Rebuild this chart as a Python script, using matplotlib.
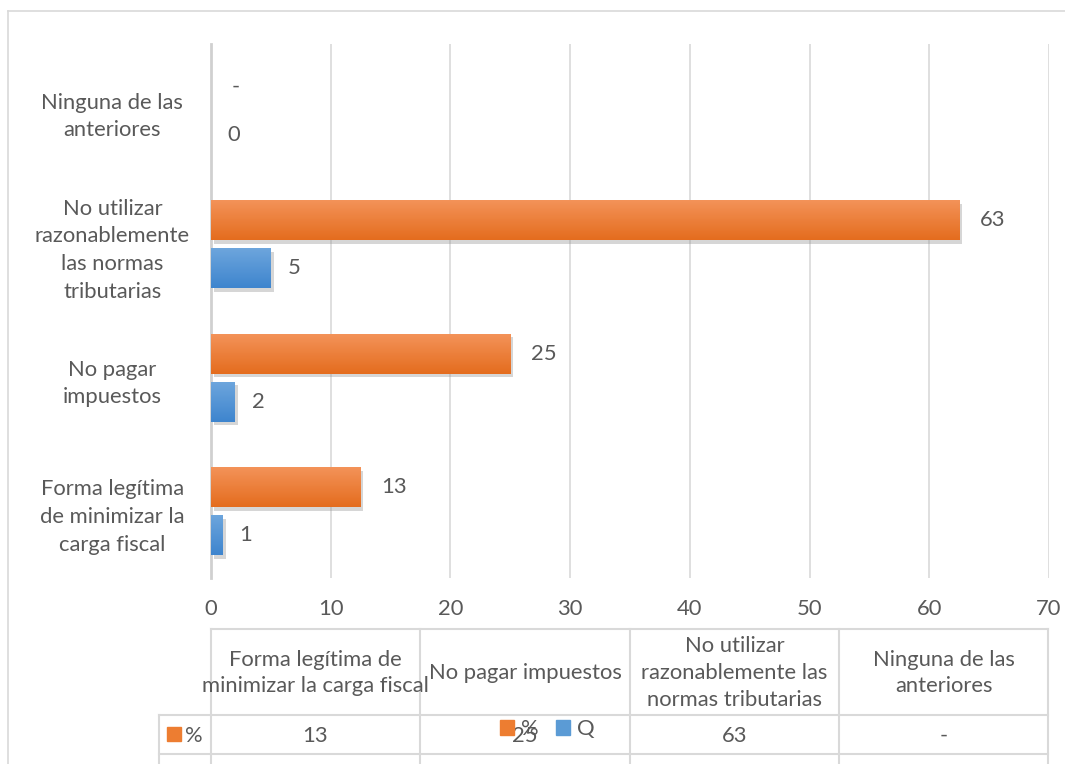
import matplotlib
matplotlib.use("Agg")
import matplotlib.pyplot as plt
import matplotlib.patheffects as pe
from matplotlib.patches import Patch
import numpy as np

# ---- data ----
categories = ["Forma legítima\nde minimizar la\ncarga fiscal",
              "No pagar\nimpuestos",
              "No utilizar\nrazonablemente\nlas normas\ntributarias",
              "Ninguna de las\nanteriores"]
table_headers = ["Forma legítima de\nminimizar la carga fiscal",
                 "No pagar impuestos",
                 "No utilizar\nrazonablemente las\nnormas tributarias",
                 "Ninguna de las\nanteriores"]
pct_values = [12.5, 25, 62.5, 0]
q_values = [1, 2, 5, 0]
series_names = ["%", "Q"]
x_ticks = [0, 10, 20, 30, 40, 50, 60, 70]

ORANGE = "#ED7D31"
BLUE = "#5B9BD5"
TXT = "#595959"
GRID = "#D9D9D9"
FONT = ["Lato", "DejaVu Sans"]
FS = 15.8

plt.rcParams["font.family"] = FONT

W, H = 1065, 764
fig = plt.figure(figsize=(W / 100, H / 100), dpi=100)

# overlay axes in pixel coordinates for borders & table
ov = fig.add_axes([0, 0, 1, 1], zorder=0)
ov.set_xlim(0, W)
ov.set_ylim(H, 0)
ov.axis("off")

# outer chart border
ov.plot([8, 8], [11, H], color=GRID, lw=1.2)
ov.plot([8, W], [11, 11], color=GRID, lw=1.2)

# main plot area
L, R, T, B = 211, 1049, 44, 578
ax = fig.add_axes([L / W, 1 - B / H, (R - L) / W, (B - T) / H], zorder=1)
ax.set_facecolor("none")

def pct_label(v):
    return "-" if v == 0 else str(int(v + 0.5))

def q_label(v):
    return str(int(v + 0.5))

y = np.arange(len(categories))
off, hgt = 0.18, 0.30

def grad_bars(ypos, vals, top_col, bot_col, base):
    bars = ax.barh(ypos, vals, height=hgt, color=base, zorder=3,
                   path_effects=[pe.SimplePatchShadow(offset=(2, -2.5), shadow_rgbFace="#8c8c8c", alpha=0.35),
                                 pe.Normal()])
    grad = np.linspace(0, 1, 64).reshape(-1, 1)
    cmap = matplotlib.colors.LinearSegmentedColormap.from_list("g", [top_col, bot_col])
    for b, v in zip(bars, vals):
        if v <= 0:
            continue
        x0, y0 = b.get_x(), b.get_y()
        im = ax.imshow(grad, extent=[x0, x0 + b.get_width(), y0, y0 + b.get_height()],
                       origin="upper", cmap=cmap, aspect="auto", zorder=4)
        im.set_clip_path(b)
    return bars

pb = grad_bars(y + off, pct_values, "#F4945A", "#E46C1E", ORANGE)
qb = grad_bars(y - off, q_values, "#6EA6DD", "#3E85CE", BLUE)

for yy, v in zip(y + off, pct_values):
    ax.annotate(pct_label(v), (v, yy), xytext=(15, 0), textcoords="offset points",
                ha="left", va="center", fontsize=FS, color=TXT, zorder=5)
for yy, v in zip(y - off, q_values):
    ax.annotate(q_label(v), (v, yy), xytext=(12, 0), textcoords="offset points",
                ha="left", va="center", fontsize=FS, color=TXT, zorder=5)

ax.set_xlim(0, 70)
ax.set_ylim(-0.5, len(categories) - 0.5)
ax.set_xticks(x_ticks)
ax.set_xticklabels([str(t) for t in x_ticks], fontsize=FS, color=TXT)
ax.set_yticks(y)
ax.set_yticklabels(categories, fontsize=FS, color=TXT, ha="center", linespacing=1.48)
ax.tick_params(axis="y", length=0, pad=71)
ax.tick_params(axis="x", length=0, pad=15)
ax.grid(axis="x", color=GRID, lw=1.2, zorder=0)
for s in ["top", "right", "bottom"]:
    ax.spines[s].set_visible(False)
ax.spines["left"].set_color("#D0D0D0")
ax.spines["left"].set_linewidth(2)
ax.spines["left"].set_zorder(2)

# ---- data table ----
col_x = [211, 420, 630, 839, 1048]
row_lab_x = 159
ty0, ty1, ty2 = 629, 715, 754
lw = 1.5
ov.plot([col_x[0], col_x[-1]], [ty0, ty0], color=GRID, lw=lw)
for yy in (ty1, ty2):
    ov.plot([row_lab_x, col_x[-1]], [yy, yy], color=GRID, lw=lw)
for xx in col_x:
    ov.plot([xx, xx], [ty0, H], color=GRID, lw=lw)
ov.plot([row_lab_x, row_lab_x], [ty1, H], color=GRID, lw=lw)

for i, hdr in enumerate(table_headers):
    cx = (col_x[i] + col_x[i + 1]) / 2
    ov.text(cx, (ty0 + ty1) / 2 + 1, hdr, ha="center", va="center", fontsize=FS,
            color=TXT, linespacing=1.42)
    ov.text(cx, (ty1 + ty2) / 2 + 1, pct_label(pct_values[i]), ha="center", va="center",
            fontsize=FS, color=TXT)

# row label with legend key
ov.add_patch(plt.Rectangle((167, 727), 14, 14, color=ORANGE, zorder=3))
ov.text(185, (ty1 + ty2) / 2 + 1, series_names[0], ha="left", va="center", fontsize=FS, color=TXT)

# legend
fig.legend(handles=[Patch(color=ORANGE), Patch(color=BLUE)], labels=series_names,
           loc="center", bbox_to_anchor=(547 / W, 1 - 729 / H), ncol=2, frameon=False,
           handlelength=0.65, handleheight=0.65, columnspacing=0.8, handletextpad=0.3,
           prop={"size": FS, "family": FONT}, labelcolor=TXT)

fig.savefig("out.png", dpi=100)
